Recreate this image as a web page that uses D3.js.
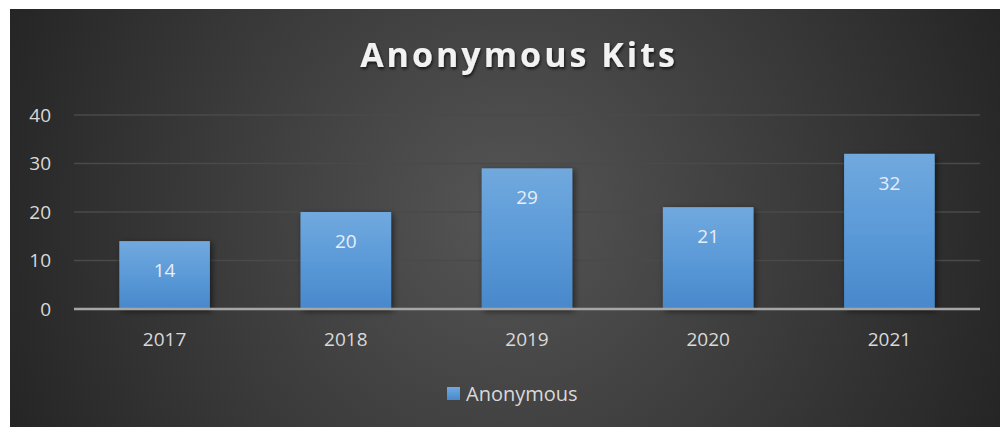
<!DOCTYPE html>
<html><head><meta charset="utf-8">
<script src="https://cdn.jsdelivr.net/npm/d3@7"></script>
<style>
html,body{margin:0;padding:0;background:#fff;}
svg{display:block;}
</style></head>
<body>
<svg id="chart" width="1000" height="427"></svg>
<script>
const categories = ["2017","2018","2019","2020","2021"];
const values = [14, 20, 29, 21, 32];
const yTicks = [0, 10, 20, 30, 40];
const seriesName = "Anonymous";
const title = "Anonymous Kits";

const svg = d3.select("#chart");
const W = 1000, H = 427;
const defs = svg.append("defs");
const FONT = "'Open Sans', sans-serif";

const bg = defs.append("radialGradient").attr("id","bg")
  .attr("gradientUnits","userSpaceOnUse")
  .attr("cx",505).attr("cy",215).attr("r",560);
bg.append("stop").attr("offset","0%").attr("stop-color","#555555");
bg.append("stop").attr("offset","100%").attr("stop-color","#232323");

const barG = defs.append("linearGradient").attr("id","barg").attr("x1",0).attr("x2",0).attr("y1",0).attr("y2",1);
barG.append("stop").attr("offset","0%").attr("stop-color","#71a9de");
barG.append("stop").attr("offset","50%").attr("stop-color","#5b9ad8");
barG.append("stop").attr("offset","100%").attr("stop-color","#4888cb");

const sh = defs.append("filter").attr("id","shadow").attr("x","-20%").attr("y","-20%").attr("width","150%").attr("height","150%");
sh.append("feDropShadow").attr("dx",2).attr("dy",2).attr("stdDeviation",3).attr("flood-color","#000").attr("flood-opacity",0.55);

const tsh = defs.append("filter").attr("id","tshadow").attr("x","-10%").attr("y","-30%").attr("width","120%").attr("height","160%");
tsh.append("feDropShadow").attr("dx",1).attr("dy",2).attr("stdDeviation",1.5).attr("flood-color","#000").attr("flood-opacity",0.7);

svg.append("rect").attr("x",10).attr("y",9).attr("width",W-10).attr("height",H-9).attr("fill","url(#bg)");

const x = d3.scaleBand().domain(categories).range([74, 980]).paddingInner(0.5).paddingOuter(0.25);
const y = d3.scaleLinear().domain([0, 40]).range([309, 115]);

// gridlines
svg.append("g").selectAll("line").data(yTicks.filter(d=>d>0)).join("line")
  .attr("x1",74).attr("x2",980).attr("y1",d=>y(d)).attr("y2",d=>y(d))
  .attr("stroke","#4a4a4a").attr("stroke-width",1.5);

// y axis labels
const yAxis = d3.axisLeft(y).tickValues(yTicks).tickSize(0).tickPadding(0);
const ya = svg.append("g").attr("transform","translate(51,0)").call(yAxis);
ya.select(".domain").remove();
ya.selectAll("text").attr("fill","#d9d9d9").style("font-family",FONT).style("font-size","19px");

// bars
svg.append("g").selectAll("rect").data(values).join("rect")
  .attr("x",(d,i)=>x(categories[i])).attr("width",x.bandwidth())
  .attr("y",d=>y(d)).attr("height",d=>y(0)-y(d))
  .attr("fill","url(#barg)").attr("filter","url(#shadow)");

// data labels
svg.append("g").selectAll("text").data(values).join("text")
  .attr("x",(d,i)=>x(categories[i])+x.bandwidth()/2)
  .attr("y",d=>y(d)+36)
  .attr("text-anchor","middle")
  .attr("fill","#e6eef7")
  .style("font-family",FONT).style("font-size","19px")
  .text(d=>d);

// baseline
svg.append("line").attr("x1",74).attr("x2",980).attr("y1",y(0)).attr("y2",y(0))
  .attr("stroke","#a6a6a6").attr("stroke-width",2.5);

// x axis labels
const xAxis = d3.axisBottom(x).tickSize(0).tickPadding(0);
const xa = svg.append("g").attr("transform","translate(0,332)").call(xAxis);
xa.select(".domain").remove();
xa.selectAll("text").attr("fill","#d9d9d9").attr("dy","0.71em").style("font-family",FONT).style("font-size","19px");

// title
svg.append("text").attr("x",519).attr("y",67).attr("text-anchor","middle")
  .attr("fill","#f2f2f2").attr("filter","url(#tshadow)")
  .style("font-family",FONT).style("font-weight","bold")
  .style("font-size","34px").style("letter-spacing","3px")
  .text(title);

// legend
const lg = svg.append("g").attr("transform","translate(447,387)");
lg.append("rect").attr("width",13).attr("height",13).attr("fill","url(#barg)");
lg.append("text").attr("x",19).attr("y",6.5).attr("dy","0.35em").attr("fill","#d9d9d9")
  .style("font-family",FONT).style("font-size","20px").text(seriesName);
</script>
</body></html>
